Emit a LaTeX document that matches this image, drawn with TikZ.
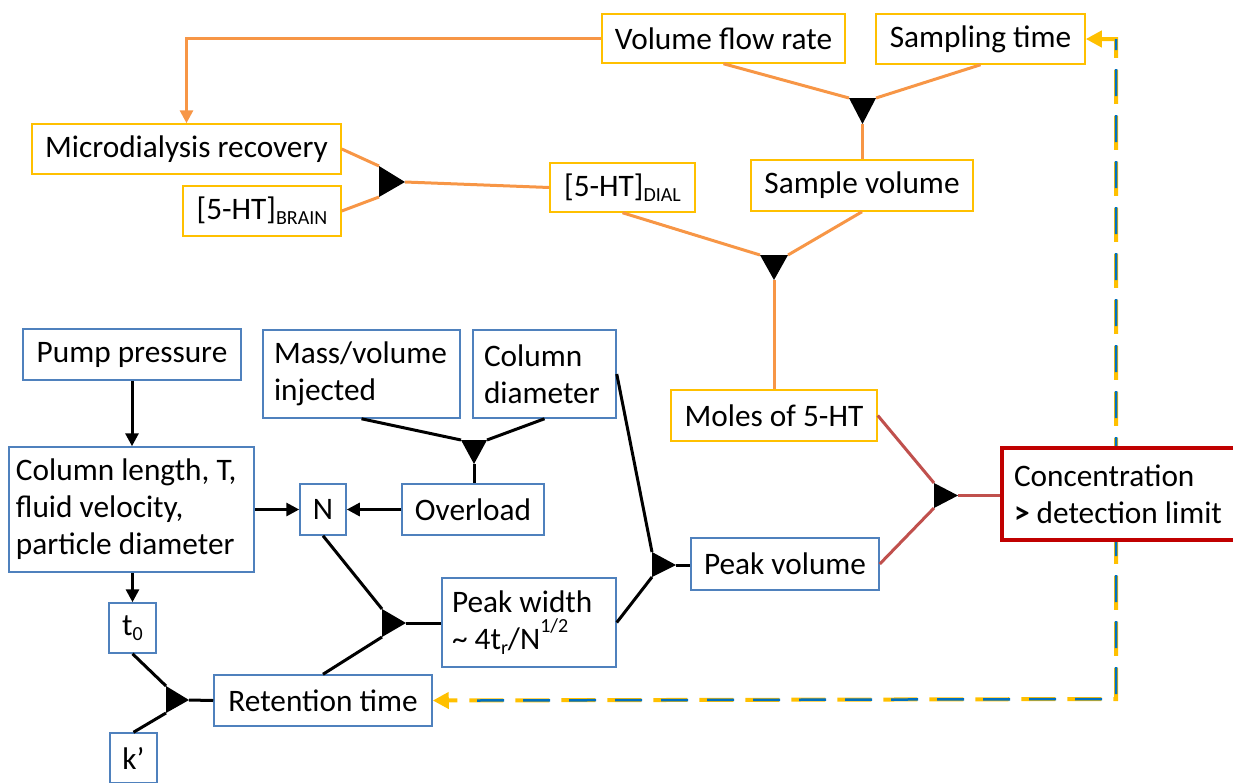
\documentclass[tikz,border=0pt]{standalone}
\usepackage{fontspec}
\setmainfont{Carlito}
\usetikzlibrary{arrows.meta,backgrounds}
\definecolor{ob}{HTML}{FFC000}
\definecolor{ol}{HTML}{F79646}
\definecolor{bb}{HTML}{4F81BD}
\definecolor{rb}{HTML}{C00000}
\definecolor{rl}{HTML}{C0504D}
\definecolor{dblue}{HTML}{0070C0}
\newcommand\mysub[1]{\raisebox{-0.35ex}{\fontsize{20}{20}\selectfont #1}}
\newcommand\mysup[1]{\raisebox{1.1ex}{\fontsize{20}{20}\selectfont #1}}
\begin{document}
\begin{tikzpicture}[x=1pt,y=-1pt,
  box/.style={draw, line width=1.5pt, fill=white, inner sep=0pt, font=\fontsize{31.3}{37}\selectfont, text=black},
  obox/.style={box, draw=ob},
  bbox/.style={box, draw=bb},
  oline/.style={draw=ol, line width=3pt},
  kline/.style={draw=black, line width=3pt},
  rline/.style={draw=rl, line width=3pt},
  karr/.style={kline, -{Triangle[length=13pt,width=13pt]}},
  oarr/.style={oline, -{Triangle[length=13pt,width=13pt]}},
  fbtip/.style={{Triangle[length=16pt,width=16pt]}-{Triangle[length=16pt,width=16pt]}},
]
\useasboundingbox (0,0) rectangle (1233,782);
% orange boxes
\node[obox, minimum width=243, minimum height=49] (vfr) at (723.5,38.5) {Volume flow rate};
\node[obox, minimum width=209, minimum height=50] (st) at (980.5,39) {Sampling time};
\node[obox, minimum width=309, minimum height=50] (mr) at (186.5,149) {Microdialysis recovery};
\node[obox, minimum width=158, minimum height=50] (brain) at (262,211) {[5-HT]\mysub{BRAIN}};
\node[obox, minimum width=145, minimum height=49] (dial) at (622.5,187.5) {[5-HT]\mysub{DIAL}};
\node[obox, minimum width=222, minimum height=51] (sv) at (862,185.5) {Sample volume};
\node[obox, minimum width=206, minimum height=51] (moles) at (774,415.5) {Moles of 5-HT};
% red box
\node[box, draw=rb, line width=4pt, text width=210, inner xsep=12, minimum height=92, align=flush left] (conc) at (1119,494) {Concentration\\\textbf{>} detection limit};
% blue boxes
\node[bbox, minimum width=218, minimum height=51] (pp) at (132,354.5) {Pump pressure};
\node[bbox, text width=231, inner xsep=7, align=flush left, minimum height=125] (cl) at (131.5,509.5) {Column length, T,\\fluid velocity,\\particle diameter};
\node[bbox, minimum width=46, minimum height=51] (n) at (323,509.5) {N};
\node[bbox, minimum width=142, minimum height=51] (ov) at (473,509.5) {Overload};
\node[bbox, text width=175, inner xsep=11, align=flush left, minimum height=88] (mv) at (361.5,374) {Mass/volume\\injected};
\node[bbox, text width=121, inner xsep=11, align=flush left, minimum height=88] (cd) at (544.5,374) {Column\\diameter};
\node[bbox, minimum width=188, minimum height=52] (pv) at (785,564) {Peak volume};
\node[bbox, text width=154, inner xsep=10, align=flush left, minimum height=89] (pw) at (529,622.5) {Peak width\\\textasciitilde{} 4t\mysub{r}/N\mysup{1/2}};
\node[bbox, minimum width=47, minimum height=50] (t0) at (132.5,628) {t\mysub{0}};
\node[bbox, minimum width=47, minimum height=50] (kp) at (133.5,758) {k’};
\node[bbox, minimum width=218, minimum height=51] (rt) at (323,700.5) {Retention time};
% triangle corners
\coordinate (t1a) at (849,98); \coordinate (t1b) at (876,98); \coordinate (t1c) at (862.5,124);
\coordinate (t2a) at (760,255); \coordinate (t2b) at (788,255); \coordinate (t2c) at (774,280);
\coordinate (t3a) at (379,166); \coordinate (t3b) at (379,197); \coordinate (t3c) at (405,182);
\coordinate (t4a) at (461,440); \coordinate (t4b) at (487,440); \coordinate (t4c) at (474,464);
\coordinate (t5a) at (652,552); \coordinate (t5b) at (652,577); \coordinate (t5c) at (676,565);
\coordinate (t6a) at (934,483); \coordinate (t6b) at (934,508); \coordinate (t6c) at (958,495.5);
\coordinate (t7a) at (382,609); \coordinate (t7b) at (382,637); \coordinate (t7c) at (406,623);
\coordinate (t8a) at (166,686); \coordinate (t8b) at (166,713); \coordinate (t8c) at (189,700);
% orange connectors
\draw[oarr] (vfr.west) -| (mr.north);
\draw[oline] (vfr.south) -- (t1a);
\draw[oline] (st.south) -- (t1b);
\draw[oline] (t1c) -- (sv.north -| t1c);
\draw[oline] (mr.east) -- (t3a);
\draw[oline] (brain.east) -- (t3b);
\draw[oline] (t3c) -- (dial.west);
\draw[oline] (dial.south) -- (t2a);
\draw[oline] (sv.south) -- (t2b);
\draw[oline] (t2c) -- (moles.north -| t2c);
% red connectors
\draw[rline] (moles.east) -- (t6a);
\draw[rline] (pv.east) -- (t6b);
\draw[rline] (t6c) -- (conc.west |- t6c);
% black connectors
\draw[karr] (pp.south) -- (cl.north -| pp.south);
\draw[karr] (cl.east |- n) -- (n.west);
\draw[karr] (ov.west) -- (n.east);
\draw[kline] (mv.south) -- (t4a);
\draw[kline] (cd.south) -- (t4b);
\draw[kline] (t4c) -- (ov.north -| t4c);
\draw[kline] (cd.east) -- (t5a);
\draw[kline] (t5c) -- (pv.west |- t5c);
\draw[kline] (pw.east) -- (t5b);
\draw[kline] (n.south) -- (t7a);
\draw[kline] (rt.north) -- (t7b);
\draw[kline] (t7c) -- (pw.west |- t7c);
\draw[karr] (cl.south -| t0.north) -- (t0.north);
\draw[kline] (t0.south) -- (t8a);
\draw[kline] (kp.north) -- (t8b);
\draw[kline] (t8c) -- (rt.west);
% triangles
\foreach \t in {t1,t2,t3,t4,t5,t6,t7,t8} \fill (\t a) -- (\t b) -- (\t c) -- cycle;
% feedback dashed line (behind the boxes)
\coordinate (fbt) at (1116,39);
\coordinate (fbb) at (1116,699);
\begin{pgfonlayer}{background}
\draw[draw=ob, line width=4pt, dash pattern=on 34pt off 12pt, fbtip] (st.east) -- (fbt) -- (fbb) -- (rt.east);
\draw[draw=dblue, line width=2.5pt, dash pattern=on 27pt off 19pt, dash phase=-30pt] (fbt) -- (fbb) -- ([xshift=42]rt.east);
\end{pgfonlayer}
\end{tikzpicture}
\end{document}
